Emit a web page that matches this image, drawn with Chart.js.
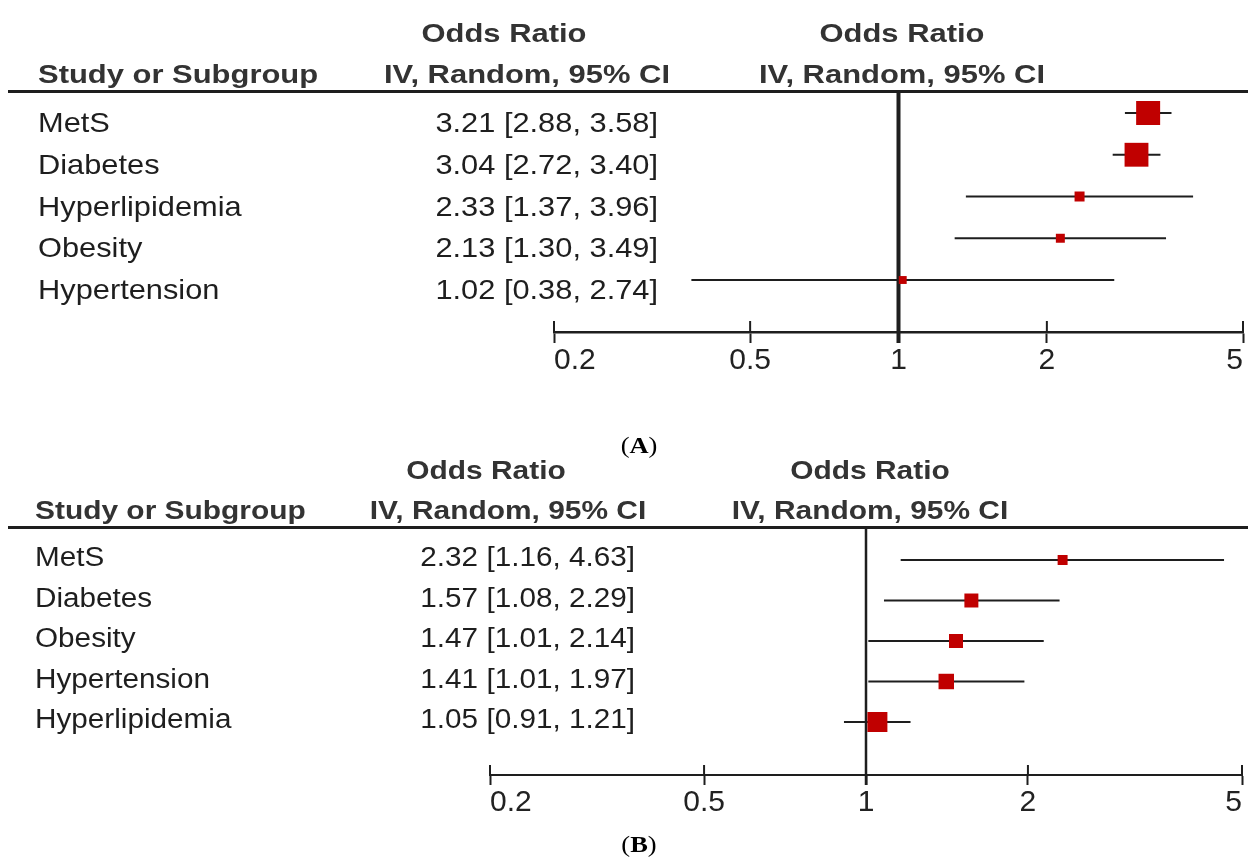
<!DOCTYPE html>
<html>
<head>
<meta charset="utf-8">
<title>Forest plots</title>
<script src="https://cdn.jsdelivr.net/npm/chart.js@4.4.1/dist/chart.umd.min.js"></script>
<style>
  html, body { margin: 0; padding: 0; background: #fff; overflow: hidden; }
  #wrap { position: relative; width: 1248px; height: 859px; }
  #wrap canvas { position: absolute; left: 0; top: 0; }
</style>
</head>
<body>
<div id="wrap">
  <canvas id="forestA" width="1248" height="859"></canvas>
  <canvas id="forestB" width="1248" height="859"></canvas>
</div>
<script>
// --- data, panel A
const studiesA = ['MetS', 'Diabetes', 'Hyperlipidemia', 'Obesity', 'Hypertension'];
const orA = [3.21, 3.04, 2.33, 2.13, 1.02];
const loA = [2.88, 2.72, 1.37, 1.30, 0.38];
const hiA = [3.58, 3.40, 3.96, 3.49, 2.74];
const weightA = [41.5, 41.0, 7.2, 5.8, 4.5];

// --- data, panel B
const studiesB = ['MetS', 'Diabetes', 'Obesity', 'Hypertension', 'Hyperlipidemia'];
const orB = [2.32, 1.57, 1.47, 1.41, 1.05];
const loB = [1.16, 1.08, 1.01, 1.01, 0.91];
const hiB = [4.63, 2.29, 2.14, 1.97, 1.21];
const weightB = [8.8, 17.3, 17.3, 21.2, 35.4];

const axisTicks = [0.2, 0.5, 1, 2, 5];

const RED = '#c00000';
const INK = '#1e1e1e';
const SANS = '"Liberation Sans", Arial, sans-serif';
const SERIF = '"Liberation Serif", "Times New Roman", serif';

// draw text squeezed/stretched horizontally like the scanned figure
function drawText(ctx, str, x, y, font, align, sx, color) {
    ctx.save();
    ctx.font = font;
    ctx.fillStyle = color;
    ctx.textBaseline = 'alphabetic';
    ctx.textAlign = 'left';
    const w = ctx.measureText(str).width * sx;
    const x0 = align === 'left' ? x : align === 'right' ? x - w : x - w / 2;
    ctx.translate(x0, y);
    ctx.scale(sx, 1);
    ctx.fillText(str, 0, 0);
    ctx.restore();
}

// "(A)" style caption: plain parentheses, bold letter
function drawTag(ctx, letter, cx, y) {
    const parts = [['(', '23px ' + SERIF], [letter, 'bold 23px ' + SERIF], [')', '23px ' + SERIF]];
    const sx = 1.15;
    ctx.save();
    const widths = parts.map(p => { ctx.font = p[1]; return ctx.measureText(p[0]).width * sx; });
    let x = cx - widths.reduce((a, b) => a + b, 0) / 2;
    ctx.restore();
    parts.forEach((p, i) => {
        drawText(ctx, p[0], x, y, p[1], 'left', sx, '#000');
        x += widths[i];
    });
}

const fmt = v => v.toFixed(2);

function makeForest(id, studies, or, lo, hi, weight, L) {
    const ymin = -(L.firstRow - L.top) / L.rowStep;
    const ymax = (L.axisY - L.firstRow) / L.rowStep;
    const maxW = Math.max(...weight);
    const radii = weight.map(w => (L.maxBox * Math.sqrt(w / maxW)) / Math.SQRT2);

    const whiskers = studies.map((s, i) => ({
        type: 'line',
        data: [{ x: lo[i], y: i }, { x: hi[i], y: i }],
        borderColor: INK,
        borderWidth: L.whiskerWidth,
        pointRadius: 0,
        order: 2
    }));

    const boxes = {
        type: 'scatter',
        data: studies.map((s, i) => ({ x: or[i], y: i })),
        pointStyle: 'rect',
        pointRadius: radii,
        pointBorderWidth: 0,
        backgroundColor: RED,
        borderColor: RED,
        order: 1
    };

    const forestDecor = {
        id: 'forestDecor',
        beforeDatasetsDraw(chart) {
            const { ctx, chartArea } = chart;
            const x = chart.scales.x;
            // line of no effect
            const px = x.getPixelForValue(1);
            ctx.save();
            ctx.strokeStyle = INK;
            ctx.lineWidth = L.nullWidth;
            ctx.beginPath();
            ctx.moveTo(px, chartArea.top);
            ctx.lineTo(px, chartArea.bottom + L.tickHalf);
            ctx.stroke();
            ctx.restore();
        },
        afterDraw(chart) {
            const { ctx, chartArea } = chart;
            const x = chart.scales.x;
            const y = chart.scales.y;
            ctx.save();
            // upper half of the axis ticks
            ctx.strokeStyle = INK;
            ctx.lineWidth = 2;
            x.ticks.forEach(t => {
                const px = x.getPixelForValue(t.value);
                ctx.beginPath();
                ctx.moveTo(px, chartArea.bottom - L.tickHalf);
                ctx.lineTo(px, chartArea.bottom);
                ctx.stroke();
            });
            // header rule
            ctx.lineWidth = 3;
            ctx.beginPath();
            ctx.moveTo(8, L.ruleY);
            ctx.lineTo(1248, L.ruleY);
            ctx.stroke();
            ctx.restore();

            const hFont = 'bold ' + L.headSize + 'px ' + SANS;
            const rFont = L.rowSize + 'px ' + SANS;
            const HEAD = '#333';
            drawText(ctx, 'Odds Ratio', L.col2Odds, L.head1Y, hFont, 'center', L.headSx, HEAD);
            drawText(ctx, 'Odds Ratio', L.col3, L.head1Y, hFont, 'center', L.headSx, HEAD);
            drawText(ctx, 'Study or Subgroup', L.col1, L.head2Y, hFont, 'left', L.headSx, HEAD);
            drawText(ctx, 'IV, Random, 95% CI', L.col2IV, L.head2Y, hFont, 'center', L.headSx, HEAD);
            drawText(ctx, 'IV, Random, 95% CI', L.col3, L.head2Y, hFont, 'center', L.headSx, HEAD);

            studies.forEach((s, i) => {
                const py = y.getPixelForValue(i) + L.textDrop;
                drawText(ctx, s, L.col1, py, rFont, 'left', L.rowSx, INK);
                drawText(ctx, fmt(or[i]) + ' [' + fmt(lo[i]) + ', ' + fmt(hi[i]) + ']',
                    L.col2Right, py, rFont, 'right', L.rowSx, INK);
            });

            drawTag(ctx, L.tag, L.tagX, L.tagY);
        }
    };

    return new Chart(document.getElementById(id), {
        data: { datasets: [boxes, ...whiskers] },
        options: {
            responsive: false,
            animation: false,
            devicePixelRatio: 1,
            events: [],
            layout: {
                autoPadding: false,
                padding: { left: L.left, right: 1248 - L.right, top: L.top, bottom: 859 - L.axisY - 40 }
            },
            plugins: { legend: { display: false }, tooltip: { enabled: false } },
            scales: {
                x: {
                    type: 'logarithmic',
                    min: 0.2,
                    max: 5,
                    afterBuildTicks: s => { s.ticks = axisTicks.map(v => ({ value: v })); },
                    afterFit: s => { s.height = 40; s.paddingLeft = 0; s.paddingRight = 0; },
                    border: { display: true, width: L.axisWidth, color: INK },
                    grid: {
                        display: true,
                        drawOnChartArea: false,
                        drawTicks: true,
                        tickLength: L.tickHalf,
                        tickWidth: 2,
                        tickColor: INK
                    },
                    ticks: {
                        autoSkip: false,
                        maxRotation: 0,
                        align: 'inner',
                        padding: 0,
                        color: '#222',
                        font: { family: SANS, size: 30 },
                        callback: v => String(v)
                    }
                },
                y: {
                    type: 'linear',
                    display: false,
                    reverse: true,
                    min: ymin,
                    max: ymax
                }
            }
        },
        plugins: [forestDecor]
    });
}

makeForest('forestA', studiesA, orA, loA, hiA, weightA, {
    left: 554, right: 1243, top: 93, axisY: 332, firstRow: 113, rowStep: 41.75,
    maxBox: 24, whiskerWidth: 2, nullWidth: 4, axisWidth: 2.5, tickHalf: 11,
    ruleY: 91.5, head1Y: 42, head2Y: 83, headSize: 26, headSx: 1.19,
    col1: 38, col2Odds: 504, col2IV: 527, col3: 902, col2Right: 658,
    rowSize: 28, rowSx: 1.10, textDrop: 19,
    tag: 'A', tagX: 639, tagY: 453
});

makeForest('forestB', studiesB, orB, loB, hiB, weightB, {
    left: 490, right: 1242, top: 528, axisY: 775, firstRow: 560, rowStep: 40.5,
    maxBox: 20, whiskerWidth: 2, nullWidth: 2.5, axisWidth: 2, tickHalf: 10,
    ruleY: 527.5, head1Y: 479, head2Y: 519, headSize: 26, headSx: 1.15,
    col1: 35, col2Odds: 486, col2IV: 508, col3: 870, col2Right: 635,
    rowSize: 27, rowSx: 1.10, textDrop: 6,
    tag: 'B', tagX: 639, tagY: 852
});
</script>
</body>
</html>
